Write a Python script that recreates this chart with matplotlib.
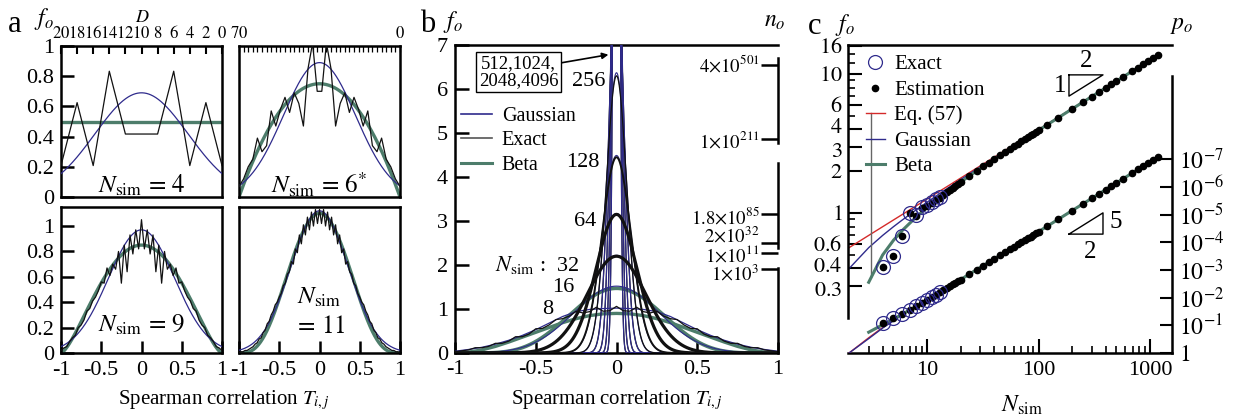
import numpy as np
import matplotlib
matplotlib.use("Agg")
import matplotlib.pyplot as plt
import matplotlib.transforms as mtransforms
from matplotlib.lines import Line2D
from matplotlib.ticker import FixedLocator, FixedFormatter, NullLocator

plt.rcParams["font.family"] = ["Liberation Serif", "DejaVu Serif"]
plt.rcParams["mathtext.fontset"] = "stix"
plt.rcParams["axes.unicode_minus"] = False

W, H = 1233, 418
BLUE = "#2f2b8c"
GREEN = "#4d7d6b"
RED = "#d42a2a"
BLACK = "#111111"

# ------------------------------------------------------------------ panel a data
a1_T = [-1.0, -0.8, -0.6, -0.4, -0.2, 0.0, 0.2, 0.4, 0.6, 0.8, 1.0]
a1_exact = [0.208, 0.625, 0.208, 0.833, 0.417, 0.417, 0.417, 0.833, 0.208, 0.625, 0.208]
a1_D_labels = ["20", "18", "16", "14", "12", "10", "8", "6", "4", "2", "0"]

a2_D = list(range(70, -1, -2))          # D = 70 ... 0, T = 1 - D/35
a2_exact_half = [0.07, 0.12, 0.20, 0.25, 0.39, 0.30, 0.34, 0.57, 0.47,
                 0.58, 0.66, 0.56, 0.69, 0.62, 0.47, 0.85, 1.02, 0.70]

a3_exact_half = [0.02, 0.04, 0.05, 0.09, 0.12, 0.14, 0.20, 0.22, 0.26, 0.33,
                 0.35, 0.41, 0.44, 0.49, 0.56, 0.55, 0.67, 0.61, 0.70, 0.66,
                 0.80, 0.55, 0.85, 0.64, 0.93, 0.78, 0.97, 0.82, 1.05]

a4_exact_half = [0.00, 0.01, 0.01, 0.02, 0.02, 0.03, 0.04, 0.05, 0.07, 0.08,
                 0.11, 0.12, 0.16, 0.18, 0.23, 0.25, 0.30, 0.33, 0.38, 0.40,
                 0.44, 0.47, 0.53, 0.55, 0.62, 0.64, 0.72, 0.70, 0.82, 0.79,
                 0.93, 0.86, 1.01, 0.93, 1.07, 0.97, 1.11, 1.00, 1.13, 1.02, 1.13]

a_gauss_peak = [0.69, 0.89, 0.97, 1.12]
a_beta_peak = [0.50, 0.75, 0.85, 1.10]
a_beta_power = [0.0, 1.0, 1.5, 3.3]

# ------------------------------------------------------------------ panel b data
b8_gauss_half = [0.04, 0.08, 0.13, 0.20, 0.29, 0.40, 0.53, 0.68, 0.83, 0.94, 0.99, 1.01, 1.02]
b8_beta_half = [0.00, 0.02, 0.07, 0.15, 0.25, 0.36, 0.47, 0.58, 0.69, 0.78, 0.85, 0.89, 0.90]
b8_exact_half = [0.03, 0.05, 0.07, 0.12, 0.12, 0.15, 0.22, 0.22, 0.27, 0.37, 0.37, 0.43, 0.55,
                 0.56, 0.64, 0.76, 0.78, 0.84, 0.95, 0.91, 0.94, 1.04, 0.95, 0.96, 1.06]

b_N = [16, 32, 64, 128, 256, 512, 1024, 2048, 4096]
b_gauss_peak = [1.52, 2.22, 3.17, 4.49, 6.37, 9.0, 12.7, 18.0, 25.5]
b_exact_N = [32, 64, 128, 256, 512, 1024, 2048, 4096]
b_exact_peak = [2.20, 3.15, 4.45, 6.30, 8.9, 12.6, 17.8, 25.2]
b_beta16_peak = 1.47
b_beta16_power = 6.0

b_no_pos = [6.55, 4.86, 3.16, 2.50, 2.27, 1.91]
b_no_labels = [r"$4{\times}10^{501}$", r"$1{\times}10^{211}$", r"$1.8{\times}10^{85}$",
               r"$2{\times}10^{32}$", r"$1{\times}10^{11}$", r"$1{\times}10^{3}$"]

# ------------------------------------------------------------------ panel c data
c_N = [4, 5, 6, 7, 8, 9, 10, 11, 12, 13, 14, 15, 16, 17, 18, 19, 20,
       24, 28, 32, 36, 40, 45, 50, 55, 60, 65, 70, 75, 80, 85, 90, 95, 100,
       120, 150, 200, 250, 300, 350, 400, 450, 500, 575, 690, 780, 870, 960, 1060, 1180]
c_est_f = [0.41, 0.49, 0.68, 1.00, 0.95, 1.08, 1.12, 1.19, 1.24, 1.29,
           1.353, 1.411, 1.466, 1.519, 1.571, 1.621, 1.669,
           1.850, 2.015, 2.167, 2.309, 2.443, 2.601, 2.750, 2.891, 3.025, 3.154,
           3.278, 3.397, 3.512, 3.624, 3.732, 3.837, 3.939,
           4.324, 4.845, 5.607, 6.276, 6.881, 7.437, 7.954, 8.439, 8.898, 9.545,
           10.46, 11.12, 11.75, 12.35, 12.97, 13.69]
c_est_logp = [1.09, 1.27, 1.42, 1.56, 1.69, 1.80, 1.91, 2.01, 2.10, 2.19,
              2.27, 2.35, 2.42, 2.48, 2.54, 2.60, 2.65,
              2.849, 3.014, 3.157, 3.284, 3.397, 3.523, 3.637, 3.738, 3.832, 3.918,
              3.997, 4.071, 4.140, 4.205, 4.266, 4.325, 4.380,
              4.580, 4.824, 5.139, 5.383, 5.582, 5.751, 5.897, 6.026, 6.141, 6.295,
              6.494, 6.628, 6.749, 6.855, 6.963, 7.081]
c_exact_N = [4, 5, 6, 7, 8, 9, 10, 11, 12, 13]
c_exact_f = [0.41, 0.49, 0.68, 1.00, 0.97, 1.10, 1.14, 1.20, 1.26, 1.30]
c_exact_logp = [1.09, 1.27, 1.42, 1.56, 1.69, 1.80, 1.91, 2.01, 2.10, 2.19]

c_line_N = [2, 3, 4, 5, 6, 8, 10, 15, 20, 30, 50, 100, 200, 500, 1180]
c_red_f = [0.564, 0.691, 0.798, 0.892, 0.977, 1.128, 1.262, 1.545, 1.784, 2.185, 2.821, 3.989, 5.642, 8.921, 13.70]
c_blue_f = [0.399, 0.564, 0.691, 0.798, 0.892, 1.055, 1.197, 1.493, 1.739, 2.148, 2.793, 3.969, 5.628, 8.913, 13.69]
c_red_logp = [0.0, 0.55, 0.92, 1.18, 1.40, 1.70, 1.93, 2.36, 2.67, 3.10, 3.65, 4.39, 5.14, 6.14, 7.08]
c_blue_logp = [0.0, 0.52, 0.90, 1.16, 1.38, 1.68, 1.92, 2.35, 2.66, 3.10, 3.65, 4.39, 5.14, 6.14, 7.08]
c_green_N = [3, 4, 5, 6, 8, 10, 15, 20, 30, 50, 100, 200, 500, 1180]
c_green_f = [0.318, 0.500, 0.637, 0.750, 0.938, 1.094, 1.411, 1.669, 2.092, 2.750, 3.939, 5.607, 8.900, 13.69]
c_green_logp = [0.75, 1.02, 1.22, 1.40, 1.68, 1.91, 2.35, 2.65, 3.09, 3.64, 4.38, 5.14, 6.14, 7.08]
c_fo_ticks = [0.3, 0.4, 0.6, 1, 2, 3, 4, 6, 10, 16]
c_po_ticks = [1, 1e-1, 1e-2, 1e-3, 1e-4, 1e-5, 1e-6, 1e-7]


# ------------------------------------------------------------------ helpers
def rect(x0, y0, x1, y1):
    return [x0 / W, 1 - y1 / H, (x1 - x0) / W, (y1 - y0) / H]


def ftext(x, y, s, **kw):
    fig.text(x / W, 1 - y / H, s, **kw)


def mirror_odd(half):
    return list(half) + list(half[-2::-1])


def mirror_even(half):
    return list(half) + list(half[::-1])


def gauss_curve(t, peak):
    return peak * np.exp(-np.pi * peak ** 2 * t ** 2)


def beta_curve(t, peak, power):
    return peak * np.clip(1 - t ** 2, 0, None) ** power


def spines(ax, lw=1.8):
    for s in ax.spines.values():
        s.set_linewidth(lw)


fig = plt.figure(figsize=(W / 100, H / 100), dpi=100)

# ------------------------------------------------------------------ panel a
axa = [fig.add_axes(rect(61, 46, 222, 197)), fig.add_axes(rect(239, 46, 400, 197)),
       fig.add_axes(rect(61, 207, 222, 353)), fig.add_axes(rect(239, 207, 400, 353))]
t = np.linspace(-1, 1, 801)
a2_T = [1 - d / 35 for d in a2_D]
exact_T = [a1_T, a2_T,
           np.linspace(-1, 1, 2 * len(a3_exact_half) - 1),
           np.linspace(-1, 1, 2 * len(a4_exact_half) - 1)]
exact_f = [a1_exact, mirror_even(a2_exact_half), mirror_odd(a3_exact_half), mirror_odd(a4_exact_half)]
for i, ax in enumerate(axa):
    ax.plot(t, beta_curve(t, a_beta_peak[i], a_beta_power[i]), color=GREEN, lw=2.4, zorder=2)
    ax.plot(t, gauss_curve(t, a_gauss_peak[i]), color=BLUE, lw=0.9, zorder=3)
    ax.plot(exact_T[i], exact_f[i], color=BLACK, lw=0.9, zorder=4)
    ax.set_xlim(-1, 1)
    spines(ax)

for ax in axa[:2]:
    ax.set_ylim(0, 1)
for ax in axa[2:]:
    ax.set_ylim(0, 1.15)

ytk = [0, 0.2, 0.4, 0.6, 0.8, 1.0]
ytl = ["0", "0.2", "0.4", "0.6", "0.8", "1"]
for ax in (axa[0], axa[2]):
    ax.set_yticks(ytk)
    ax.set_yticklabels(ytl)
    ax.tick_params(axis="y", direction="in", length=9, width=1.8, labelsize=16, pad=5)
for ax in (axa[1], axa[3]):
    ax.set_yticks([])

# top D axes (math text keeps the crowded labels' boxes tight)
axa[0].set_xticks(a1_T)
axa[0].set_xticklabels(["$%s$" % s for s in a1_D_labels])
axa[0].tick_params(axis="x", top=True, bottom=False, labeltop=True, labelbottom=False,
                   direction="in", length=6, width=1.5, labelsize=12, pad=3)
axa[1].set_xticks(a2_T)
axa[1].set_xticklabels(["$70$"] + [""] * (len(a2_D) - 2) + ["$0$"])
axa[1].tick_params(axis="x", top=True, bottom=False, labeltop=True, labelbottom=False,
                   direction="in", length=4, width=0.9, labelsize=12, pad=3)

xtk = [-1, -0.5, 0, 0.5, 1]
xtl = ["-1", "-0.5", "0", "0.5", "1"]
for ax in axa[2:]:
    ax.set_xticks(xtk)
    ax.set_xticklabels(xtl)
    ax.tick_params(axis="x", direction="in", length=9, width=1.8, labelsize=16, pad=6)

nsz = 18
axa[0].text(0.5, 0.08, r"$N_{\rm sim}\,=\,4$", transform=axa[0].transAxes, ha="center", va="center", fontsize=nsz)
axa[1].text(0.5, 0.08, r"$N_{\rm sim}\,=\,6^{*}$", transform=axa[1].transAxes, ha="center", va="center", fontsize=nsz)
axa[2].text(0.5, 0.19, r"$N_{\rm sim}\,=\,9$", transform=axa[2].transAxes, ha="center", va="center", fontsize=nsz)
axa[3].text(0.5, 0.38, r"$N_{\rm sim}$", transform=axa[3].transAxes, ha="center", va="center", fontsize=nsz)
axa[3].text(0.5, 0.18, r"$=\,11$", transform=axa[3].transAxes, ha="center", va="center", fontsize=nsz)

# ------------------------------------------------------------------ panel b
axb = fig.add_axes(rect(455, 45, 778, 353))
axb.set_xlim(-1, 1)
axb.set_ylim(0, 7)
spines(axb)
tb = np.linspace(-1, 1, 4001)
T25 = np.linspace(-1, 1, 2 * len(b8_gauss_half) - 1)
T49 = np.linspace(-1, 1, 2 * len(b8_exact_half) - 1)
axb.plot(T25, mirror_odd(b8_beta_half), color=GREEN, lw=2.4, zorder=2)
axb.plot(tb, beta_curve(tb, b_beta16_peak, b_beta16_power), color=GREEN, lw=2.6, zorder=2)
axb.plot(T25, mirror_odd(b8_gauss_half), color=BLUE, lw=0.9, zorder=3)
for n, pk in zip(b_N, b_gauss_peak):
    axb.plot(tb, gauss_curve(tb, pk), color=BLUE, lw=0.8, zorder=3)
axb.plot(T49, mirror_odd(b8_exact_half), color=BLACK, lw=0.9, zorder=4)
for n, pk in zip(b_exact_N, b_exact_peak):
    lw = 2.3 if n in (32, 64) else (1.4 if n == 128 else 0.9)
    z = 4 if n <= 256 else 2.9
    axb.plot(tb, gauss_curve(tb, pk), color=BLACK, lw=lw, zorder=z)

axb.set_yticks(range(8))
axb.set_yticklabels([str(i) for i in range(8)])
axb.tick_params(axis="y", direction="in", length=10, width=1.8, labelsize=16, pad=5)
axb.set_xticks(xtk)
axb.set_xticklabels(xtl)
axb.tick_params(axis="x", direction="in", length=8, width=1.8, labelsize=16, pad=5)
axb.spines["right"].set_visible(False)

axb2 = axb.twinx()
axb2.set_ylim(0, 7)
axb2.set_yticks(b_no_pos)
axb2.tick_params(axis="y", direction="in", length=12, width=1.8, labelright=False)
for k in ("left", "top", "bottom"):
    axb2.spines[k].set_visible(False)
axb2.spines["right"].set_linewidth(1.8)
axb2.spines["right"].set_linestyle((0, (34, 8)))
blend = mtransforms.blended_transform_factory(axb.transAxes, axb.transData)
# baseline of each n_o label, set just below its tick (the three low ones are spread apart)
no_label_base = [6.39, 4.68, 2.95, 2.50, 2.07, 1.64]
for yb, s in zip(no_label_base, b_no_labels):
    axb.text(0.942, yb, s, transform=blend, ha="right", va="baseline", fontsize=13.5)

axb.text(-0.173, 6.16, "256", ha="center", va="center", fontsize=16)
axb.text(-0.207, 4.34, "128", ha="center", va="center", fontsize=16)
axb.text(-0.195, 3.0, "64", ha="center", va="center", fontsize=16)
axb.text(-0.226, 2.0, r"$N_{\rm sim}$ :  32", ha="right", va="center", fontsize=16)
axb.text(-0.331, 1.48, "16", ha="center", va="center", fontsize=16)
axb.text(-0.424, 0.98, "8", ha="center", va="center", fontsize=16)
axb.annotate("512,1024,\n2048,4096", xy=(-0.05, 6.78), xytext=(-0.607, 6.39),
             ha="center", va="center", fontsize=13.5, linespacing=1.0,
             bbox=dict(boxstyle="square,pad=0.15", fc="white", ec="black", lw=1.0),
             arrowprops=dict(arrowstyle="-|>", color="black", lw=1.2, relpos=(1.0, 0.75),
                             shrinkA=0, shrinkB=0, mutation_scale=9), zorder=6)
hb = [Line2D([], [], color=BLUE, lw=1.2), Line2D([], [], color="#555555", lw=1.2),
      Line2D([], [], color=GREEN, lw=2.2)]
axb.legend(hb, ["Gaussian", "Exact", "Beta"], loc="upper left", bbox_to_anchor=(0.02, 0.80),
           frameon=False, fontsize=14.5, handlelength=1.5, handletextpad=0.5,
           labelspacing=0.28, borderpad=0, borderaxespad=0)

# ------------------------------------------------------------------ panel c
axc = fig.add_axes(rect(848, 45, 1172, 353))
axc.set_xscale("log")
axc.set_yscale("log")
axc.set_xlim(1.956, 1574)
axc.set_ylim(0.0986, 16.17)
spines(axc)
axc.spines["right"].set_visible(False)
axc.spines["left"].set_bounds(0.176, 16.17)

axp = axc.twinx()
axp.set_yscale("log")
axp.set_ylim(1, 10 ** -11.12)
for k in ("left", "top", "bottom"):
    axp.spines[k].set_visible(False)
axp.spines["right"].set_linewidth(1.8)
axp.spines["right"].set_bounds(1e-10, 1)


def to_p(q):
    return 10.0 ** (-np.asarray(q))


axc.plot(c_line_N, c_red_f, color=RED, lw=1.0, zorder=2)
axc.plot(c_line_N, c_blue_f, color=BLUE, lw=1.0, zorder=2)
axc.plot(c_green_N, c_green_f, color=GREEN, lw=2.2, zorder=3)
axp.plot(c_line_N, to_p(c_red_logp), color=RED, lw=1.0, zorder=2)
axp.plot(c_line_N, to_p(c_blue_logp), color=BLUE, lw=1.0, zorder=2)
axp.plot(c_green_N, to_p(c_green_logp), color=GREEN, lw=2.2, zorder=3)

axc.plot(c_N, c_est_f, ls="none", marker="o", color="black", ms=4.5, zorder=5)
axp.plot(c_N, to_p(c_est_logp), ls="none", marker="o", color="black", ms=4.5, zorder=5)
axc.plot(c_exact_N, c_exact_f, ls="none", marker="o", mfc="none", mec=BLUE, mew=0.9, ms=10, zorder=6)
axp.plot(c_exact_N, to_p(c_exact_logp), ls="none", marker="o", mfc="none", mec=BLUE, mew=0.9, ms=10, zorder=6)

axc.xaxis.set_major_locator(FixedLocator([10, 100, 1000]))
axc.xaxis.set_major_formatter(FixedFormatter(["10", "100", "1000"]))
axc.xaxis.set_minor_locator(FixedLocator([3, 4, 5, 6, 7, 8, 9, 20, 30, 40, 50, 60, 70, 80, 90,
                                          200, 300, 400, 500, 600, 700, 800, 900]))
axc.xaxis.set_minor_formatter(FixedFormatter([]))
axc.tick_params(axis="x", which="major", direction="in", length=10, width=1.5, labelsize=16, pad=6)
axc.tick_params(axis="x", which="minor", direction="in", length=5, width=1.2)

axc.yaxis.set_major_locator(FixedLocator(c_fo_ticks))
axc.yaxis.set_major_formatter(FixedFormatter(["$%g$" % v for v in c_fo_ticks]))
axc.yaxis.set_minor_locator(FixedLocator([0.5, 0.7, 0.8, 0.9, 5, 7, 8, 9, 12, 14]))
axc.yaxis.set_minor_formatter(FixedFormatter([]))
axc.tick_params(axis="y", which="major", direction="in", length=10, width=1.5, labelsize=16, pad=4)
axc.tick_params(axis="y", which="minor", direction="in", length=5, width=1.2)
# nudge the tightly stacked labels (4 / 3 and 0.4 / 0.3) apart by a couple of points
label_nudge = {0.4: 2.2, 0.3: -2.2, 4: 2.2, 3: -2.2}
for tk, v in zip(axc.yaxis.get_major_ticks(), c_fo_ticks):
    if v in label_nudge:
        tk.label1.set_transform(tk.label1.get_transform() +
                                mtransforms.ScaledTranslation(0, label_nudge[v] / 72, fig.dpi_scale_trans))

axp.yaxis.set_major_locator(FixedLocator(c_po_ticks))
axp.yaxis.set_major_formatter(FixedFormatter(["$1$"] + [r"$10^{-%d}$" % k for k in range(1, 8)]))
axp.yaxis.set_minor_locator(NullLocator())
axp.tick_params(axis="y", which="major", direction="in", length=9, width=1.5, labelsize=17, pad=5)

axc.axvline(3.15, ymin=0.247, ymax=0.779, color="#666666", lw=1.0)
# slope triangles
axc.plot([0.682, 0.787, 0.682, 0.682], [0.903, 0.903, 0.834, 0.903], transform=axc.transAxes, color="black", lw=1.0)
axc.plot([0.682, 0.787, 0.787, 0.682], [0.386, 0.386, 0.455, 0.386], transform=axc.transAxes, color="black", lw=1.0)
axc.text(0.654, 0.868, "1", transform=axc.transAxes, ha="center", va="center", fontsize=18)
axc.text(0.735, 0.948, "2", transform=axc.transAxes, ha="center", va="center", fontsize=18)
axc.text(0.826, 0.425, "5", transform=axc.transAxes, ha="center", va="center", fontsize=18)
axc.text(0.748, 0.328, "2", transform=axc.transAxes, ha="center", va="center", fontsize=18)

hc = [Line2D([], [], ls="none", marker="o", mfc="none", mec=BLUE, mew=0.9, ms=10),
      Line2D([], [], ls="none", marker="o", color="black", ms=4.5),
      Line2D([], [], color=RED, lw=1.0),
      Line2D([], [], color=BLUE, lw=1.0),
      Line2D([], [], color=GREEN, lw=2.2)]
axp.legend(hc, ["Exact", "Estimation", "Eq. (57)", "Gaussian", "Beta"], loc="upper left",
           bbox_to_anchor=(0.055, 0.968), frameon=False, fontsize=15, handlelength=0.9,
           handletextpad=0.45, labelspacing=0.28, borderpad=0, borderaxespad=0)

# ------------------------------------------------------------------ figure texts
ftext(15, 24, "a", fontsize=22, ha="center", va="center")
ftext(428, 24, "b", fontsize=22, ha="center", va="center")
ftext(815, 27, "c", fontsize=22, ha="center", va="center")
ftext(44, 19, r"$f_o$", fontsize=17, ha="center", va="center")
ftext(453, 22, r"$f_o$", fontsize=17, ha="center", va="center")
ftext(845, 25, r"$f_o$", fontsize=17, ha="center", va="center")
ftext(775, 22, r"$n_o$", fontsize=17, ha="center", va="center")
ftext(1182, 25, r"$p_o$", fontsize=17, ha="center", va="center")
ftext(142, 17, r"$D$", fontsize=13, ha="center", va="center")
ftext(224, 400, r"Spearman correlation $T_{i,j}$", fontsize=15, ha="center", va="center")
ftext(617, 400, r"Spearman correlation $T_{i,j}$", fontsize=15, ha="center", va="center")
ftext(1022, 405, r"$N_{\rm sim}$", fontsize=17, ha="center", va="center")

fig.savefig("out.png", dpi=100)
